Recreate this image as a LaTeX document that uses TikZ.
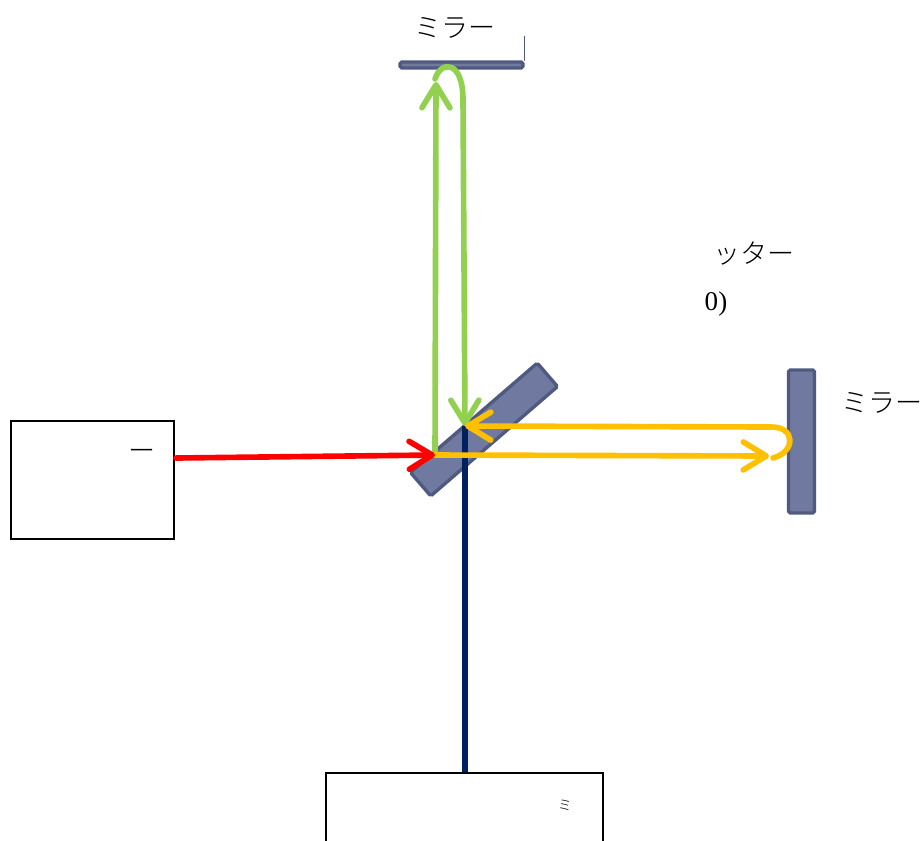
\documentclass[tikz,border=0pt]{standalone}
\usepackage{fontspec}
\setmainfont{Liberation Serif}
\newfontfamily\jpfont{Noto Sans CJK JP Light}
\usetikzlibrary{arrows.meta}
\definecolor{cmirror}{HTML}{7079A0}
\definecolor{cedge}{HTML}{50597F}
\definecolor{cred}{HTML}{FF0000}
\definecolor{cgreen}{HTML}{92D050}
\definecolor{corange}{HTML}{FFC000}
\definecolor{cblue}{HTML}{002060}
\tikzset{
  box/.style={draw=black, fill=white, line width=1.4pt, minimum width=#1, inner sep=0pt},
  mirror/.style={draw=cedge, fill=cmirror, line width=1.9pt, rounded corners=1pt, inner sep=0pt},
  beam/.style={line width=3.2pt, -{Straight Barb[length=0.46cm, width=0.56cm, round]}},
  label/.style={font=\jpfont\fontsize{15.4}{15.4}\selectfont, inner sep=0pt},
}
\begin{document}
\begin{tikzpicture}[x=0.02cm, y=-0.02cm, line cap=round]
  \clip[use as bounding box] (0,0) rectangle (922,840);
  % optics
  \node[mirror, minimum width=2.46cm, minimum height=0.12cm] (mtop) at (461.5,65) {};
  \draw[cedge, line width=0.7pt] (mtop.north east) -- ++(0,-24);
  \node[mirror, minimum width=0.52cm, minimum height=2.86cm] (mright) at (801.5,441.5) {};
  \node[mirror, minimum width=3.35cm, minimum height=0.62cm, rotate=40.8] (bs) at (484,429.5) {};
  % source and detector
  \node[box=3.26cm, minimum height=2.36cm] (src) at (92.5,480) {};
  \node[box=5.54cm, minimum height=3cm] (det) at (464.5,848) {};
  % beam ends
  \coordinate (rin) at (176,458);
  \coordinate (hit) at (435,455);
  \coordinate (mid) at (465,426);
  \coordinate (dout) at (465,772);
  % blue
  \draw[cblue, line width=3.6pt, line cap=butt] (mid) -- (dout);
  % green
  \draw[beam, cgreen] (hit) -- (436,82);
  \draw[beam, cgreen] (435,79) .. controls (441,60) and (463,60) .. (463,100) -- (mid);
  % orange
  \draw[beam, corange] (hit) -- (769,456);
  \draw[beam, corange] (773,458) .. controls (796,452) and (796,426) .. (770,427) -- (mid);
  % red
  \draw[beam, cred] (rin) -- (hit);
  % labels
  \node[label] (ltop) at (455,28) {ミラー};
  \node[label] (lright) at (882,403) {ミラー};
  \node[label] (lbs) at (754,254) {ッター};
  \node[font=\fontsize{15.4}{15.4}\selectfont, inner sep=0pt] (lzero) at (716,304) {0)};
  \node[label] (lsrc) at (142,455) {ー};
  \node[font=\jpfont\fontsize{8}{8}\selectfont, inner sep=0pt] (ldet) at (565,805) {ミ};
\end{tikzpicture}
\end{document}
